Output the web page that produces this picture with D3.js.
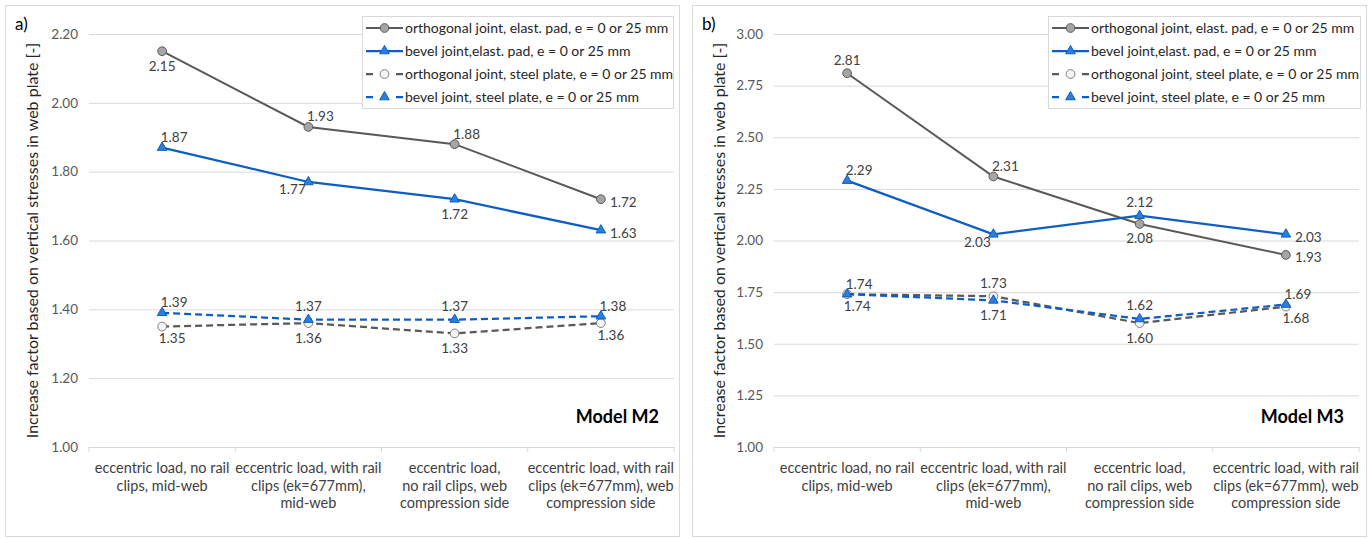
<!DOCTYPE html>
<html>
<head>
<meta charset="utf-8">
<script src="https://cdn.jsdelivr.net/npm/d3@7"></script>
<style>
  body { margin: 0; background: #fff; }
  svg { display: block; font-family: Lato, 'Liberation Sans', sans-serif; }
</style>
</head>
<body>
<script>
// categories (line breaks as in the picture)
const categories = [
  'eccentric load, no rail\nclips, mid-web',
  'eccentric load, with rail\nclips (ek=677mm),\nmid-web',
  'eccentric load,\nno rail clips, web\ncompression side',
  'eccentric load, with rail\nclips (ek=677mm), web\ncompression side'
];

const seriesNames = [
  'orthogonal joint, elast. pad, e = 0 or 25 mm',
  'bevel joint,elast. pad, e = 0 or 25 mm',
  'orthogonal joint, steel plate, e = 0 or 25 mm',
  'bevel joint, steel plate, e = 0 or 25 mm'
];

// Model M2
const m2OrthoElast = [2.15, 1.93, 1.88, 1.72];
const m2BevelElast = [1.87, 1.77, 1.72, 1.63];
const m2OrthoSteel = [1.35, 1.36, 1.33, 1.36];
const m2BevelSteel = [1.39, 1.37, 1.37, 1.38];
const m2Ticks = [1.00, 1.20, 1.40, 1.60, 1.80, 2.00, 2.20];

// Model M3
const m3OrthoElast = [2.81, 2.31, 2.08, 1.93];
const m3BevelElast = [2.29, 2.03, 2.12, 2.03];
const m3OrthoSteel = [1.74, 1.73, 1.60, 1.68];
const m3BevelSteel = [1.74, 1.71, 1.62, 1.69];
const m3Ticks = [1.00, 1.25, 1.50, 1.75, 2.00, 2.25, 2.50, 2.75, 3.00];

// where each data label sits relative to its point
const m2Places = [
  ['S', 'NE', 'NE', 'E'],
  ['NE', 'SW', 'S', 'E'],
  ['SE', 'S', 'S', 'SE'],
  ['NE', 'N', 'N', 'NE']
];
const m3Places = [
  ['N', 'NE', 'S', 'E'],
  ['NE', 'SW', 'N', 'E'],
  ['NE', 'N', 'S', 'SE'],
  ['SE', 'S', 'N', 'NE']
];

const styles = [
  { stroke: '#595959', dash: null, marker: d3.symbolCircle, size: 60, fill: '#a5a5a5', edge: '#595959', width: 2 },
  { stroke: '#0d5ec4', dash: null, marker: d3.symbolTriangle, size: 40, fill: '#2a7fdc', edge: '#0d5ec4', width: 2.25 },
  { stroke: '#595959', dash: '7,4', marker: d3.symbolCircle, size: 60, fill: '#f4f4f4', edge: '#7f7f7f', width: 2.25 },
  { stroke: '#0d5ec4', dash: '7,4', marker: d3.symbolTriangle, size: 40, fill: '#2a7fdc', edge: '#0d5ec4', width: 2.25 }
];

const offsets = {
  N: [0, -13, 'middle'],
  NE: [12, -10, 'middle'],
  S: [0, 15, 'middle'],
  SE: [10, 12, 'middle'],
  SW: [-16, 8, 'middle'],
  E: [9, 3, 'start']
};

const svg = d3.select('body').append('svg')
  .attr('width', 1370)
  .attr('height', 539);

function drawPanel(p) {
  const g = svg.append('g');

  g.append('rect')
    .attr('x', p.box[0] + 0.5).attr('y', 5.5)
    .attr('width', p.box[1] - p.box[0]).attr('height', 531)
    .attr('fill', '#fff').attr('stroke', '#d9d9d9');

  const x = d3.scaleBand().domain(categories).range([p.left, p.right]);
  const y = d3.scaleLinear().domain([p.ticks[0], p.ticks[p.ticks.length - 1]]).range([447, 34]);

  // gridlines + y labels
  const yAxis = g.append('g')
    .attr('transform', `translate(${p.left},0)`)
    .call(d3.axisLeft(y).tickValues(p.ticks).tickFormat(d3.format('.2f'))
      .tickSize(-(p.right - p.left)).tickPadding(11));
  yAxis.select('.domain').remove();
  yAxis.selectAll('line').attr('stroke', '#d9d9d9');
  yAxis.selectAll('text').attr('fill', '#595959').style('font-size', '13.5px').style('font-family', 'Lato');

  // category axis
  const xAxis = g.append('g')
    .attr('transform', 'translate(0,447)')
    .call(d3.axisBottom(x).tickSize(0).tickPadding(0));
  xAxis.select('.domain').attr('stroke', '#d9d9d9');
  xAxis.selectAll('text').each(function (d) {
    const t = d3.select(this).text(null)
      .attr('fill', '#404040').attr('y', 0).attr('dy', null)
      .style('font-size', '14.5px').style('font-family', 'Lato');
    d.split('\n').forEach((line, i) => {
      t.append('tspan').attr('x', 0).attr('y', 26 + i * 17.5).text(line);
    });
  });
  g.selectAll('.catTick')
    .data(categories.concat(['end']))
    .join('line')
    .attr('x1', (d, i) => i < categories.length ? x(d) : x(categories[i - 1]) + x.bandwidth())
    .attr('x2', (d, i) => i < categories.length ? x(d) : x(categories[i - 1]) + x.bandwidth())
    .attr('y1', 447).attr('y2', 452)
    .attr('stroke', '#d9d9d9');

  const cx = c => x(c) + x.bandwidth() / 2;

  // lines and markers
  p.series.forEach((vals, s) => {
    const st = styles[s];
    const pts = vals.map((v, i) => [cx(categories[i]), y(v)]);
    g.append('path')
      .attr('d', d3.line()(pts))
      .attr('fill', 'none')
      .attr('stroke', st.stroke)
      .attr('stroke-width', st.width)
      .attr('stroke-dasharray', st.dash);
    g.selectAll(null).data(pts).join('path')
      .attr('transform', d => `translate(${d[0]},${d[1]})`)
      .attr('d', d3.symbol(st.marker, st.size))
      .attr('fill', st.fill)
      .attr('stroke', st.edge)
      .attr('stroke-width', 1);
  });

  // data labels
  p.series.forEach((vals, s) => {
    g.selectAll(null).data(vals).join('text')
      .attr('x', (v, i) => cx(categories[i]) + offsets[p.places[s][i]][0])
      .attr('y', (v, i) => y(v) + offsets[p.places[s][i]][1] + 4.5)
      .attr('text-anchor', (v, i) => offsets[p.places[s][i]][2])
      .attr('fill', '#404040')
      .style('font-size', '13.5px')
      .text(v => v.toFixed(2));
  });

  // y title
  g.append('text')
    .attr('transform', `translate(${p.box[0] + 27},240.5) rotate(-90)`)
    .attr('text-anchor', 'middle')
    .attr('dy', '0.35em')
    .attr('fill', '#262626')
    .style('font-size', '16px')
    .text('Increase factor based on vertical stresses in web plate [-]');

  // panel letter and model name
  g.append('text')
    .attr('x', p.box[0] + 10).attr('y', 30)
    .attr('fill', '#000')
    .style('font-size', '17px')
    .text(p.letter);
  g.append('text')
    .attr('x', p.right - 15).attr('y', 423)
    .attr('text-anchor', 'end')
    .attr('fill', '#000')
    .style('font-size', '18px').style('font-weight', 'bold')
    .text(p.model);

  // legend
  const lg = g.append('g').attr('transform', `translate(${p.legend[0]},${p.legend[1]})`);
  lg.append('rect')
    .attr('x', 0.5).attr('y', 0.5)
    .attr('width', p.legend[2]).attr('height', 92)
    .attr('fill', '#fff').attr('stroke', '#d9d9d9');
  seriesNames.forEach((name, s) => {
    const st = styles[s];
    const ry = 12 + s * 23;
    lg.append('line')
      .attr('x1', 4).attr('x2', 41).attr('y1', ry).attr('y2', ry)
      .attr('stroke', st.stroke).attr('stroke-width', st.width)
      .attr('stroke-dasharray', st.dash ? '7,23' : null);
    lg.append('path')
      .attr('transform', `translate(22.5,${ry})`)
      .attr('d', d3.symbol(st.marker, st.size))
      .attr('fill', st.fill).attr('stroke', st.edge);
    lg.append('text')
      .attr('x', 43).attr('y', ry + 5)
      .attr('fill', '#262626')
      .style('font-size', '14px')
      .text(name);
  });
}

drawPanel({
  box: [5, 679], left: 89, right: 674, ticks: m2Ticks,
  series: [m2OrthoElast, m2BevelElast, m2OrthoSteel, m2BevelSteel],
  places: m2Places, letter: 'a)', model: 'Model M2',
  legend: [362, 16, 311]
});
drawPanel({
  box: [692, 1366], left: 774, right: 1359, ticks: m3Ticks,
  series: [m3OrthoElast, m3BevelElast, m3OrthoSteel, m3BevelSteel],
  places: m3Places, letter: 'b)', model: 'Model M3',
  legend: [1048, 16, 312]
});
</script>
</body>
</html>
